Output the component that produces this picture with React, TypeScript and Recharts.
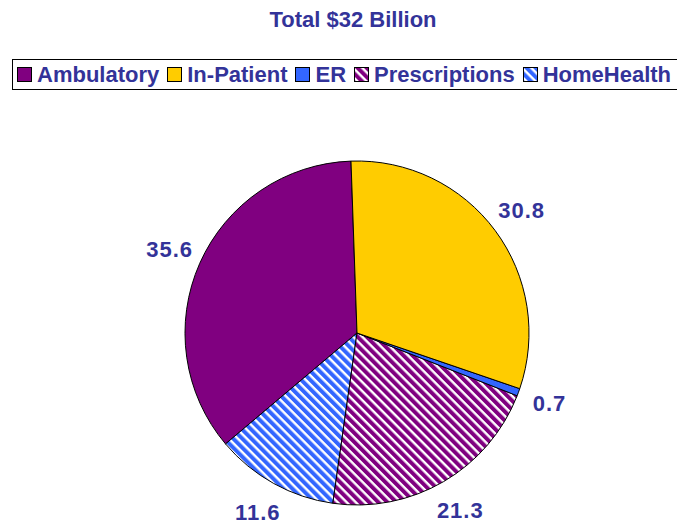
import { Cell, Legend, Pie, PieChart } from "recharts";

const categories = ["Ambulatory", "In-Patient", "ER", "Prescriptions", "HomeHealth"];
const values = [35.6, 30.8, 0.7, 21.3, 11.6];
const colors = ["#800080", "#FFCC00", "#3366FF", "#800080", "#3366FF"];
const hatched = [false, false, false, true, true];
// slices run counter-clockwise from 12 o'clock in this order
const sliceOrder = [0, 4, 3, 2, 1];

const TEXT = "#333399";
const FONT = "'Liberation Sans', Arial, sans-serif";
const RADIAN = Math.PI / 180;

const pieData = sliceOrder.map((i) => ({ name: categories[i], value: values[i], idx: i }));

const fillFor = (i: number) => (hatched[i] ? `url(#hatch-${i})` : colors[i]);

function renderLabel(props: any) {
  const { cx, cy, midAngle, outerRadius, value } = props;
  const r = outerRadius + 33;
  const x = cx + r * Math.cos(-midAngle * RADIAN);
  const y = cy + r * Math.sin(-midAngle * RADIAN);
  return (
    <text
      x={x}
      y={y}
      textAnchor="middle"
      dominantBaseline="central"
      fill={TEXT}
      fontSize={22}
      fontWeight="bold"
      letterSpacing={1}
      fontFamily={FONT}
    >
      {Number(value).toFixed(1)}
    </text>
  );
}

function LegendBox() {
  return (
    <div
      style={{
        boxSizing: "border-box",
        width: 700,
        height: 31,
        border: "1px solid #000",
        display: "flex",
        alignItems: "center",
        paddingLeft: 4,
        fontFamily: FONT,
        fontWeight: "bold",
        fontSize: 22,
        color: TEXT,
        whiteSpace: "nowrap",
      }}
    >
      {categories.map((c, i) => (
        <span key={c} style={{ display: "flex", alignItems: "center", marginRight: 8 }}>
          <svg width={15} height={15} style={{ marginRight: 5 }}>
            <rect x={0.5} y={0.5} width={14} height={14} fill={fillFor(i)} stroke="#000" />
          </svg>
          {c}
        </span>
      ))}
    </div>
  );
}

export default function App() {
  return (
    <div style={{ position: "absolute", left: 0, top: 0, width: 677, height: 525, overflow: "hidden", background: "#fff" }}>
      <div
        style={{
          position: "absolute",
          left: 0,
          top: 7,
          width: 706,
          textAlign: "center",
          fontFamily: FONT,
          fontWeight: "bold",
          fontSize: 22,
          lineHeight: "26px",
          color: TEXT,
        }}
      >
        Total $32 Billion
      </div>
      <svg width={0} height={0} style={{ position: "absolute" }}>
        <defs>
          {categories.map((c, i) =>
            hatched[i] ? (
              <pattern
                key={c}
                id={`hatch-${i}`}
                patternUnits="userSpaceOnUse"
                width={6.4}
                height={6.4}
                patternTransform="rotate(45)"
              >
                <rect width={6.4} height={6.4} fill={colors[i]} />
                <rect width={6.4} height={2.4} fill="#fff" />
              </pattern>
            ) : null
          )}
        </defs>
      </svg>
      <PieChart width={677} height={525} margin={{ top: 0, right: 0, bottom: 0, left: 0 }}>
        <Legend content={<LegendBox />} wrapperStyle={{ position: "absolute", top: 59, left: 12, width: 700 }} />
        <Pie
          data={pieData}
          dataKey="value"
          nameKey="name"
          cx={357}
          cy={333}
          outerRadius={172}
          startAngle={92}
          endAngle={452}
          stroke="#000"
          strokeWidth={1}
          label={renderLabel}
          labelLine={false}
          isAnimationActive={false}
        >
          {pieData.map((d) => (
            <Cell key={d.name} fill={fillFor(d.idx)} />
          ))}
        </Pie>
      </PieChart>
    </div>
  );
}
